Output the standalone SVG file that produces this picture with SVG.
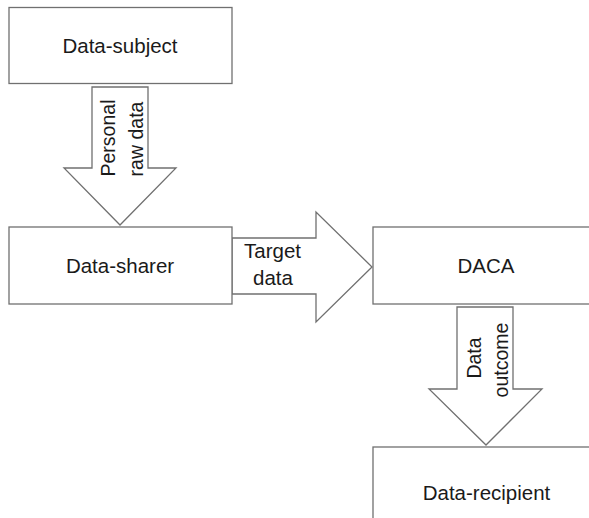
<svg xmlns="http://www.w3.org/2000/svg" width="589" height="518" viewBox="0 0 589 518">
  <style>
    .box { fill: #ffffff; stroke: #707070; stroke-width: 1.3; }
    .flow { fill: #ffffff; stroke: #707070; stroke-width: 1.3; stroke-linejoin: miter; }
    text { font-family: "Liberation Sans", Arial, sans-serif; font-size: 20.5px; fill: #1a1a1a; }
    .v { font-size: 19.5px; }
    .c { text-anchor: middle; }
  </style>
  <rect width="589" height="518" fill="#ffffff"/>

  <!-- block arrows carrying the data between the parties -->
  <g id="connectors">
    <g id="personal-raw-data">
      <polygon class="flow" points="92,87 148,87 148,168 176,168 120,225 64,168 92,168"/>
      <text class="c v" transform="translate(115,138) rotate(-90)">Personal</text>
      <text class="c v" transform="translate(142.5,139) rotate(-90)">raw data</text>
    </g>
    <g id="target-data">
      <polygon class="flow" points="232,238 316,238 316,212 372,267 316,322 316,294 232,294"/>
      <text class="c" x="272.5" y="258">Target</text>
      <text class="c" x="273" y="285">data</text>
    </g>
    <g id="data-outcome">
      <polygon class="flow" points="457,307 513,307 513,389 542,389 486,445 429,389 457,389"/>
      <text class="c v" transform="translate(481,358) rotate(-90)">Data</text>
      <text class="c v" transform="translate(508,360) rotate(-90)">outcome</text>
    </g>
  </g>

  <g id="data-subject">
    <rect class="box" x="9" y="7.5" width="223" height="76"/>
    <text class="c" x="120" y="53">Data-subject</text>
  </g>

  <g id="data-sharer">
    <rect class="box" x="9" y="227" width="223" height="77"/>
    <text class="c" x="120" y="273">Data-sharer</text>
  </g>

  <g id="daca">
    <rect class="box" x="373" y="227" width="226" height="77"/>
    <text class="c" x="486" y="273">DACA</text>
  </g>

  <g id="data-recipient">
    <rect class="box" x="373" y="447" width="226" height="92"/>
    <text class="c" x="486.5" y="500">Data-recipient</text>
  </g>
</svg>
